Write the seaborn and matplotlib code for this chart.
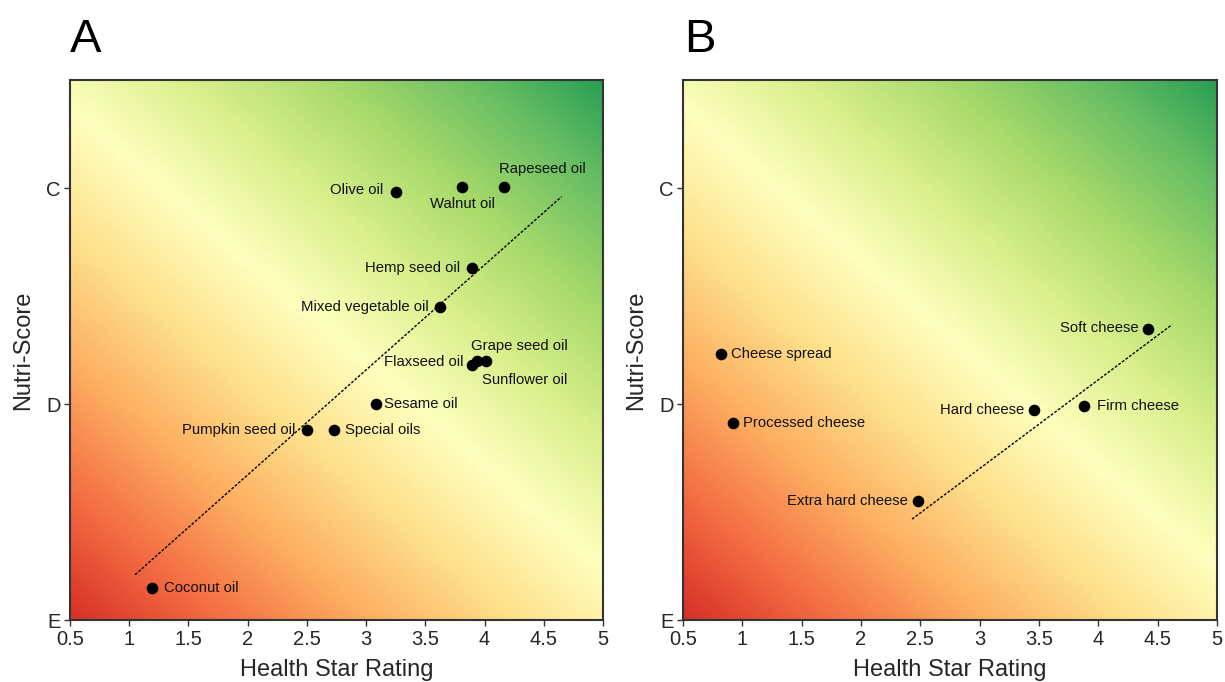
import numpy as np
import pandas as pd
import matplotlib
matplotlib.use("Agg")
import matplotlib.pyplot as plt
import seaborn as sns

# ---------------- data ----------------
oil_names = ["Coconut oil", "Pumpkin seed oil", "Special oils", "Sesame oil",
             "Flaxseed oil", "Grape seed oil", "Sunflower oil",
             "Mixed vegetable oil", "Hemp seed oil", "Olive oil",
             "Walnut oil", "Rapeseed oil"]
oil_hsr = [1.19, 2.50, 2.73, 3.08, 3.89, 3.94, 4.01, 3.62, 3.89, 3.25, 3.81, 4.16]
oil_nutri = [0.15, 0.88, 0.88, 1.00, 1.18, 1.20, 1.20, 1.45, 1.63, 1.98, 2.005, 2.005]
oil_trend_x = [1.05, 4.65]
oil_trend_y = [0.21, 1.96]

cheese_names = ["Cheese spread", "Processed cheese", "Extra hard cheese",
                "Hard cheese", "Firm cheese", "Soft cheese"]
cheese_hsr = [0.82, 0.92, 2.48, 3.46, 3.88, 4.42]
cheese_nutri = [1.233, 0.91, 0.55, 0.97, 0.99, 1.345]
cheese_trend_x = [2.43, 4.62]
cheese_trend_y = [0.467, 1.367]

x_ticks = [0.5, 1, 1.5, 2, 2.5, 3, 3.5, 4, 4.5, 5]
x_tick_labels = ["0.5", "1", "1.5", "2", "2.5", "3", "3.5", "4", "4.5", "5"]
y_ticks = [0, 1, 2]
y_tick_labels = ["E", "D", "C"]
panel_letters = ["A", "B"]

# label placement (offset in points, ha, va)
oil_label_pos = {
    "Coconut oil": (9, 0, "left", "center"),
    "Pumpkin seed oil": (-8, 0, "right", "center"),
    "Special oils": (8, 0, "left", "center"),
    "Sesame oil": (6, 0, "left", "center"),
    "Flaxseed oil": (-6, 2, "right", "center"),
    "Grape seed oil": (-5, 11, "left", "center"),
    "Sunflower oil": (-3, -14, "left", "center"),
    "Mixed vegetable oil": (-8, 0, "right", "center"),
    "Hemp seed oil": (-8, 0, "right", "center"),
    "Olive oil": (-9, 2, "right", "center"),
    "Walnut oil": (0, -12, "center", "center"),
    "Rapeseed oil": (-3, 13, "left", "center"),
}
cheese_label_pos = {
    "Cheese spread": (7, 0, "left", "center"),
    "Processed cheese": (7, 0, "left", "center"),
    "Extra hard cheese": (-7, 0, "right", "center"),
    "Hard cheese": (-7, 0, "right", "center"),
    "Firm cheese": (9, 0, "left", "center"),
    "Soft cheese": (-7, 1, "right", "center"),
}

# ---------------- style ----------------
sns.set_theme(style="white")
plt.rcParams["font.family"] = ["Liberation Sans", "DejaVu Sans"]

fig = plt.figure(figsize=(12.25, 6.82), dpi=100)
axA = fig.add_axes([70 / 1225, 62 / 682, 533 / 1225, 540 / 682])
axB = fig.add_axes([683 / 1225, 62 / 682, 534 / 1225, 540 / 682])

xlim = (0.5, 5)
ylim = (0, 2.5)
n = 400
gx, gy = np.meshgrid(np.linspace(0, 1, n), np.linspace(0, 1, n))
u = 0.46 * gx + 0.54 * gy
grad = 0.1 + 0.78 * u


def draw(ax, names, xs, ys, tx, ty, pos, letter, letter_x):
    ax.imshow(grad, extent=(xlim[0], xlim[1], ylim[0], ylim[1]), origin="lower",
              aspect="auto", cmap="RdYlGn", vmin=0, vmax=1, zorder=0,
              interpolation="bilinear")
    df = pd.DataFrame({"hsr": xs, "nutri": ys, "name": names})
    tdf = pd.DataFrame({"hsr": tx, "nutri": ty})
    sns.lineplot(data=tdf, x="hsr", y="nutri", ax=ax, color="black",
                 lw=1.0, linestyle=(0, (2, 1.2)), zorder=2)
    sns.scatterplot(data=df, x="hsr", y="nutri", ax=ax, color="black", s=70,
                    edgecolor="black", linewidth=0, zorder=3)
    for nm, x, y in zip(names, xs, ys):
        dx, dy, ha, va = pos[nm]
        ax.annotate(nm, (x, y), xytext=(dx, dy), textcoords="offset points",
                    ha=ha, va=va, fontsize=10.7, color="#111111", zorder=4)
    ax.set_xlim(*xlim)
    ax.set_ylim(*ylim)
    ax.set_xticks(x_ticks)
    ax.set_xticklabels(x_tick_labels)
    ax.set_yticks(y_ticks)
    ax.set_yticklabels(y_tick_labels)
    ax.tick_params(axis="both", which="both", direction="out", length=4.5,
                   width=1.0, color="#333333", labelsize=14.5, pad=3,
                   bottom=True, left=True)
    ax.tick_params(axis="y", pad=2)
    ax.set_xlabel("Health Star Rating", fontsize=17, labelpad=7)
    ax.set_ylabel("Nutri-Score", fontsize=17, labelpad=9)
    for sp in ax.spines.values():
        sp.set_visible(True)
        sp.set_color("#333333")
        sp.set_linewidth(1.5)
    ax.grid(False)
    fig.text(letter_x, 1 - 52 / 682, letter, fontsize=34,
             ha="left", va="baseline", color="black")


draw(axA, oil_names, oil_hsr, oil_nutri, oil_trend_x, oil_trend_y,
     oil_label_pos, panel_letters[0], 70 / 1225)
draw(axB, cheese_names, cheese_hsr, cheese_nutri, cheese_trend_x,
     cheese_trend_y, cheese_label_pos, panel_letters[1], 684 / 1225)

fig.savefig("out.png", dpi=100)
